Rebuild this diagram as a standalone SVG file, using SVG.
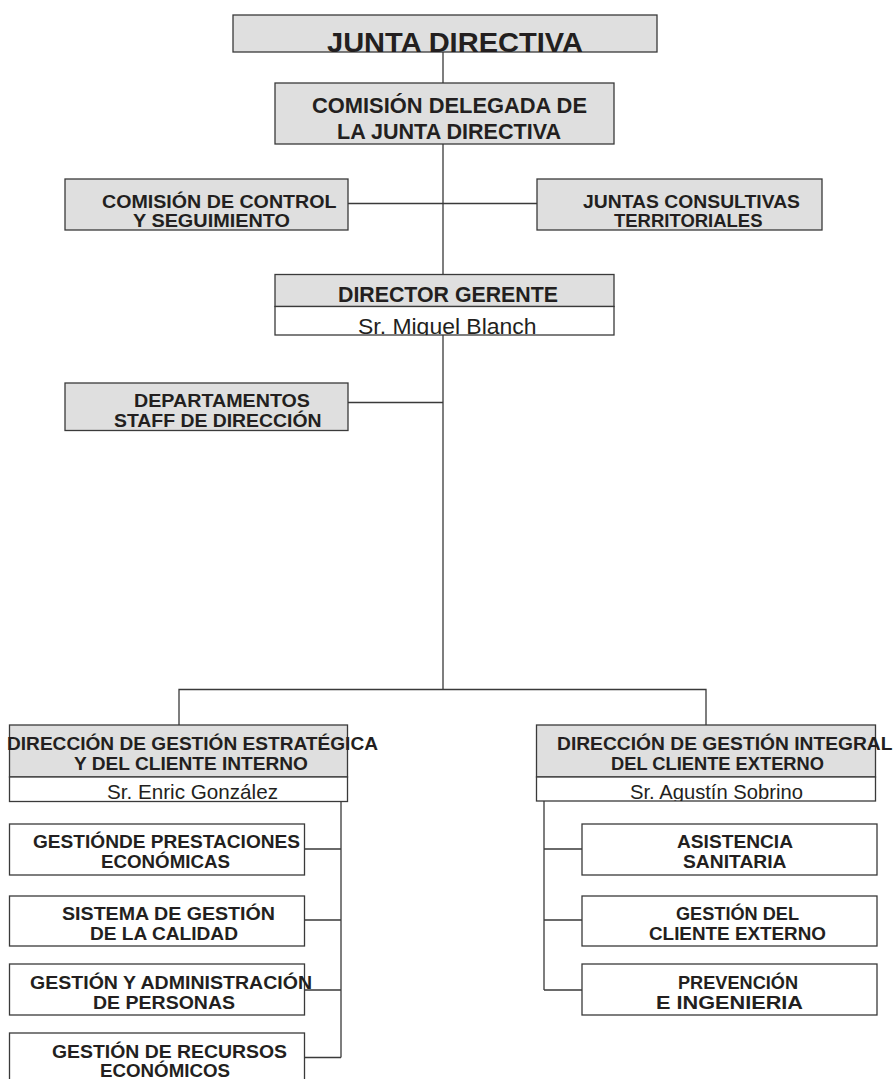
<svg xmlns="http://www.w3.org/2000/svg" width="895" height="1079" viewBox="0 0 895 1079">
<style>
.g{fill:#dfdfdf;stroke:#3a3a3a;stroke-width:1.3}
.w{fill:#ffffff;stroke:#3a3a3a;stroke-width:1.3}
.t{font-family:"Liberation Sans",Arial,sans-serif;font-weight:bold;fill:#231f20}
.s{font-size:19px}
.m{font-size:18.5px}
.n{font-family:"Liberation Sans",Arial,sans-serif;font-weight:normal;fill:#231f20;font-size:21px}
.c{fill:none;stroke:#3a3a3a;stroke-width:1.3}
</style>
<defs>
<clipPath id="cDir"><rect x="275" y="306" width="339" height="29"/></clipPath>
<clipPath id="cL"><rect x="9" y="777" width="339" height="24.5"/></clipPath>
<clipPath id="cR"><rect x="536" y="777" width="340" height="24"/></clipPath>
</defs>
<rect width="895" height="1079" fill="#ffffff"/>
<g id="connectors">
<path class="c" d="M443 52V83M443 144V274.5M443 335V689.5"/>
<path class="c" d="M348 203.5H537"/>
<path class="c" d="M348 402.5H443"/>
<path class="c" d="M179 725V689.5H706V725"/>
<path class="c" d="M341 801.5V1057.5M304.5 849H341M304.5 920H341M304.5 990H341M304.5 1057.5H341"/>
<path class="c" d="M544 801V990M544 849H582M544 920H582M544 990H582"/>
</g>
<g id="junta">
<rect class="g" x="233" y="15" width="424" height="37"/>
<text class="t" x="327" y="52" style="font-size:28.5px" textLength="256" lengthAdjust="spacingAndGlyphs">JUNTA DIRECTIVA</text>
</g>
<g id="comision-delegada">
<rect class="g" x="275" y="83" width="339" height="61"/>
<text class="t" x="312" y="113" style="font-size:21.5px" textLength="275" lengthAdjust="spacingAndGlyphs">COMISIÓN DELEGADA DE</text>
<text class="t" x="337" y="139" style="font-size:21.5px" textLength="224" lengthAdjust="spacingAndGlyphs">LA JUNTA DIRECTIVA</text>
</g>
<g id="comision-control">
<rect class="g" x="65" y="179" width="283" height="51"/>
<text class="t m" x="102" y="207.5" textLength="234.5" lengthAdjust="spacingAndGlyphs">COMISIÓN DE CONTROL</text>
<text class="t m" x="133" y="227" textLength="157" lengthAdjust="spacingAndGlyphs">Y SEGUIMIENTO</text>
</g>
<g id="juntas-consultivas">
<rect class="g" x="537" y="179" width="285" height="51"/>
<text class="t m" x="583" y="207.5" textLength="217" lengthAdjust="spacingAndGlyphs">JUNTAS CONSULTIVAS</text>
<text class="t m" x="614" y="227" textLength="148.5" lengthAdjust="spacingAndGlyphs">TERRITORIALES</text>
</g>
<g id="director-gerente">
<rect class="g" x="275" y="274.5" width="339" height="32"/>
<rect class="w" x="275" y="306.5" width="339" height="28.5"/>
<text class="t" x="338" y="302" style="font-size:21.5px" textLength="220" lengthAdjust="spacingAndGlyphs">DIRECTOR GERENTE</text>
<text class="n" x="358" y="333.5" style="font-size:22.5px" textLength="178.5" lengthAdjust="spacingAndGlyphs" clip-path="url(#cDir)">Sr. Miguel Blanch</text>
</g>
<g id="departamentos-staff">
<rect class="g" x="65" y="383" width="283" height="47.5"/>
<text class="t m" x="134" y="407" textLength="176" lengthAdjust="spacingAndGlyphs">DEPARTAMENTOS</text>
<text class="t m" x="114" y="426.5" textLength="207.5" lengthAdjust="spacingAndGlyphs">STAFF DE DIRECCIÓN</text>
</g>
<g id="direccion-estrategica">
<rect class="g" x="9.5" y="725" width="338" height="52"/>
<rect class="w" x="9.5" y="777" width="338" height="24.5"/>
<text class="t s" x="7" y="750" textLength="371" lengthAdjust="spacingAndGlyphs">DIRECCIÓN DE GESTIÓN ESTRATÉGICA</text>
<text class="t s" x="74" y="770" textLength="234" lengthAdjust="spacingAndGlyphs">Y DEL CLIENTE INTERNO</text>
<text class="n" x="107" y="799" textLength="171" lengthAdjust="spacingAndGlyphs" clip-path="url(#cL)">Sr. Enric González</text>
</g>
<g id="direccion-integral">
<rect class="g" x="536.5" y="725" width="339" height="52"/>
<rect class="w" x="536.5" y="777" width="339" height="24"/>
<text class="t s" x="557" y="750" textLength="335.5" lengthAdjust="spacingAndGlyphs">DIRECCIÓN DE GESTIÓN INTEGRAL</text>
<text class="t s" x="611" y="770" textLength="213" lengthAdjust="spacingAndGlyphs">DEL CLIENTE EXTERNO</text>
<text class="n" x="630" y="798.5" textLength="173" lengthAdjust="spacingAndGlyphs" clip-path="url(#cR)">Sr. Agustín Sobrino</text>
</g>
<g id="prestaciones">
<rect class="w" x="9.5" y="824" width="295" height="51"/>
<text class="t s" x="33" y="847.5" textLength="267" lengthAdjust="spacingAndGlyphs">GESTIÓNDE PRESTACIONES</text>
<text class="t s" x="101" y="868" textLength="129" lengthAdjust="spacingAndGlyphs">ECONÓMICAS</text>
</g>
<g id="calidad">
<rect class="w" x="9.5" y="896" width="295" height="50"/>
<text class="t s" x="62" y="920" textLength="213" lengthAdjust="spacingAndGlyphs">SISTEMA DE GESTIÓN</text>
<text class="t s" x="90" y="939.5" textLength="148" lengthAdjust="spacingAndGlyphs">DE LA CALIDAD</text>
</g>
<g id="personas">
<rect class="w" x="9.5" y="964" width="295" height="51"/>
<text class="t s" x="30" y="989" textLength="282" lengthAdjust="spacingAndGlyphs">GESTIÓN Y ADMINISTRACIÓN</text>
<text class="t s" x="93" y="1008.5" textLength="142" lengthAdjust="spacingAndGlyphs">DE PERSONAS</text>
</g>
<g id="recursos">
<rect class="w" x="9.5" y="1033" width="295" height="60"/>
<text class="t s" x="52" y="1058" textLength="235" lengthAdjust="spacingAndGlyphs">GESTIÓN DE RECURSOS</text>
<text class="t s" x="100" y="1077" textLength="130" lengthAdjust="spacingAndGlyphs">ECONÓMICOS</text>
</g>
<g id="asistencia">
<rect class="w" x="582" y="824" width="295" height="51"/>
<text class="t s" x="677" y="847.5" textLength="116" lengthAdjust="spacingAndGlyphs">ASISTENCIA</text>
<text class="t s" x="683" y="868" textLength="103.5" lengthAdjust="spacingAndGlyphs">SANITARIA</text>
</g>
<g id="cliente-externo">
<rect class="w" x="582" y="896" width="295" height="50"/>
<text class="t s" x="676" y="920" textLength="123" lengthAdjust="spacingAndGlyphs">GESTIÓN DEL</text>
<text class="t s" x="649" y="939.5" textLength="177" lengthAdjust="spacingAndGlyphs">CLIENTE EXTERNO</text>
</g>
<g id="prevencion">
<rect class="w" x="582" y="964" width="295" height="51"/>
<text class="t s" x="678" y="989" textLength="120" lengthAdjust="spacingAndGlyphs">PREVENCIÓN</text>
<text class="t s" x="656" y="1008.5" textLength="147" lengthAdjust="spacingAndGlyphs">E INGENIERIA</text>
</g>
</svg>
